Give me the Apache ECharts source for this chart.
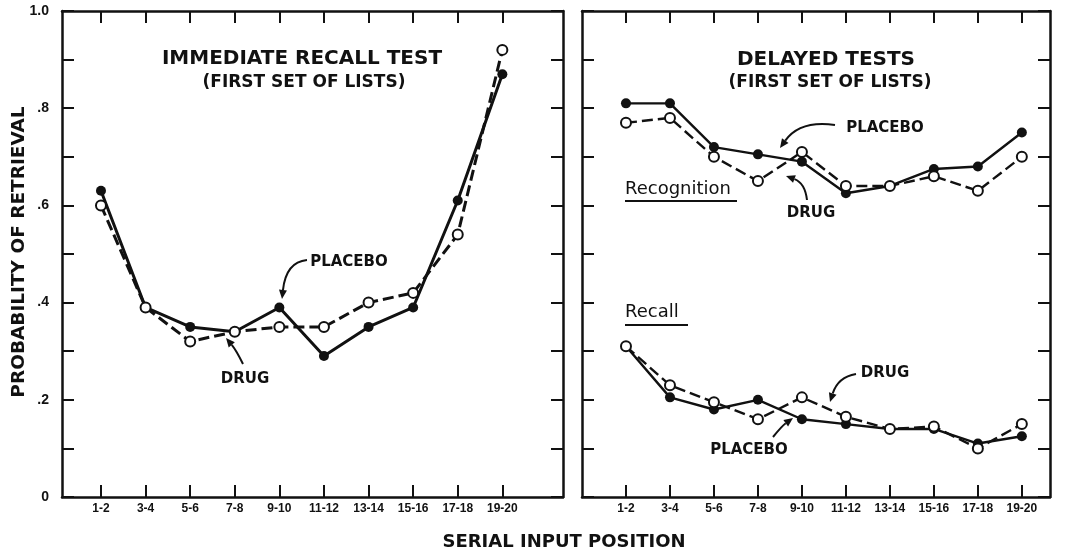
<!DOCTYPE html>
<html>
<head>
<meta charset="utf-8">
<script src="https://cdn.jsdelivr.net/npm/echarts@6/dist/echarts.min.js"></script>
<style>
  html, body { margin: 0; padding: 0; background: #fff; }
  #chart { width: 1083px; height: 554px; }
</style>
</head>
<body>
<div id="chart"></div>
<script>
// serial positions (pairs of list items)
var categories = ['1-2', '3-4', '5-6', '7-8', '9-10', '11-12', '13-14', '15-16', '17-18', '19-20'];
var yTickLabels = ['0', '.2', '.4', '.6', '.8', '1.0'];

// immediate recall test
var immPlacebo = [0.63, 0.39, 0.35, 0.34, 0.39, 0.29, 0.35, 0.39, 0.61, 0.87];
var immDrug    = [0.60, 0.39, 0.32, 0.34, 0.35, 0.35, 0.40, 0.42, 0.54, 0.92];

// delayed tests - recognition
var recogPlacebo = [0.81, 0.81, 0.72, 0.705, 0.69, 0.625, 0.64, 0.675, 0.68, 0.75];
var recogDrug    = [0.77, 0.78, 0.70, 0.65, 0.71, 0.64, 0.64, 0.66, 0.63, 0.70];

// delayed tests - recall
var recallPlacebo = [0.31, 0.205, 0.18, 0.20, 0.16, 0.15, 0.14, 0.14, 0.11, 0.125];
var recallDrug    = [0.31, 0.23, 0.195, 0.16, 0.205, 0.165, 0.14, 0.145, 0.10, 0.15];

var ink = '#111';
var positions = categories.map(function (c, i) { return i + 1; });

var chart = echarts.init(document.getElementById('chart'));

function xAx(grid, min, max, pos) {
  return {
    type: 'value', gridIndex: grid, position: pos, min: min, max: max,
    axisLine: { show: true, onZero: false, lineStyle: { color: ink, width: 2.5 } },
    axisTick: { show: true, inside: true, length: 12, lineStyle: { color: ink, width: 2 }, customValues: positions },
    axisLabel: {
      show: pos === 'bottom', customValues: positions, margin: 6,
      color: ink, fontFamily: 'Liberation Sans', fontWeight: 'bold', fontSize: 12,
      formatter: function (v) { return categories[Math.round(v) - 1]; }
    },
    splitLine: { show: false }
  };
}

function yAx(grid, pos, labels) {
  return {
    type: 'value', gridIndex: grid, position: pos, min: 0, max: 1, interval: 0.1,
    axisLine: { show: true, onZero: false, lineStyle: { color: ink, width: 2.5 } },
    axisTick: { show: true, inside: true, length: 12, lineStyle: { color: ink, width: 2 } },
    axisLabel: {
      show: labels, customValues: [0, 0.2, 0.4, 0.6, 0.8, 1], margin: 13,
      color: ink, fontFamily: 'Liberation Sans', fontWeight: 'bold', fontSize: 14,
      formatter: function (v) { return yTickLabels[Math.round(v * 5)]; }
    },
    splitLine: { show: false }
  };
}

function line(data, axis, dashed, w) {
  return {
    type: 'line', xAxisIndex: axis, yAxisIndex: axis,
    data: data.map(function (v, i) { return [positions[i], v]; }),
    symbol: 'circle', symbolSize: 10, z: dashed ? 3 : 2,
    lineStyle: { color: ink, width: w, type: dashed ? [11, 5] : 'solid' },
    itemStyle: { color: dashed ? '#fff' : ink, borderColor: ink, borderWidth: dashed ? 2 : 0 },
    silent: true
  };
}

function label(text, x, y, size, font, weight) {
  return {
    type: 'text', x: x, y: y, silent: true,
    style: {
      text: text, align: 'center', verticalAlign: 'middle', fill: ink,
      font: (weight || 'bold') + ' ' + size + 'px "' + (font || 'DejaVu Sans') + '"'
    }
  };
}

// curved pointer with a filled head at (x2, y2)
function arrow(x1, y1, cx, cy, x2, y2) {
  var dx = x2 - cx, dy = y2 - cy, d = Math.sqrt(dx * dx + dy * dy);
  var ux = dx / d, uy = dy / d, L = 9, W = 4;
  var bx = x2 - ux * L, by = y2 - uy * L;
  return [
    { type: 'bezierCurve', silent: true,
      shape: { x1: x1, y1: y1, cpx1: cx, cpy1: cy, x2: bx, y2: by },
      style: { stroke: ink, lineWidth: 2, fill: null } },
    { type: 'polygon', silent: true,
      shape: { points: [[x2, y2], [bx - uy * W, by + ux * W], [bx + uy * W, by - ux * W]] },
      style: { fill: ink } }
  ];
}

function underline(x1, x2, y) {
  return { type: 'line', silent: true, shape: { x1: x1, y1: y, x2: x2, y2: y }, style: { stroke: ink, lineWidth: 2 } };
}

var graphics = [
  label('IMMEDIATE RECALL TEST', 302, 59, 20),
  label('(FIRST SET OF LISTS)', 304, 83, 17),
  label('DELAYED TESTS', 826, 60, 20),
  label('(FIRST SET OF LISTS)', 830, 83, 17),
  { type: 'text', x: 625, y: 189, silent: true,
    style: { text: 'Recognition', verticalAlign: 'middle', fill: ink, font: '18px "DejaVu Sans"' } },
  underline(625, 737, 201),
  { type: 'text', x: 625, y: 312, silent: true,
    style: { text: 'Recall', verticalAlign: 'middle', fill: ink, font: '18px "DejaVu Sans"' } },
  underline(625, 688, 325),
  label('PLACEBO', 349, 262, 15),
  label('DRUG', 245, 379, 15),
  label('PLACEBO', 885, 128, 15),
  label('DRUG', 811, 213, 15),
  label('DRUG', 885, 373, 15),
  label('PLACEBO', 749, 450, 15),
  label('SERIAL INPUT POSITION', 564, 542, 18),
  { type: 'text', x: 19, y: 252, rotation: Math.PI / 2, silent: true,
    style: { text: 'PROBABILITY OF RETRIEVAL', align: 'center', verticalAlign: 'middle', fill: ink,
             font: 'bold 18.5px "DejaVu Sans"' } }
]
  .concat(arrow(307, 260, 286, 262, 282, 299))
  .concat(arrow(243, 364, 236, 350, 226, 338))
  .concat(arrow(835, 125, 800, 120, 780, 148))
  .concat(arrow(807, 200, 805, 183, 786, 176))
  .concat(arrow(856, 374, 838, 377, 830, 402))
  .concat(arrow(773, 437, 782, 426, 793, 418));

var option = {
  animation: false,
  backgroundColor: '#fff',
  grid: [
    { left: 62, top: 11, width: 501, height: 486 },
    { left: 582, top: 11, width: 468, height: 486 }
  ],
  xAxis: [
    xAx(0, 0.126, 11.36, 'bottom'),
    xAx(0, 0.126, 11.36, 'top'),
    xAx(1, 0, 10.64, 'bottom'),
    xAx(1, 0, 10.64, 'top')
  ],
  yAxis: [
    yAx(0, 'left', true),
    yAx(0, 'right', false),
    yAx(1, 'left', false),
    yAx(1, 'right', false)
  ],
  series: [
    line(immPlacebo, 0, false, 3),
    line(immDrug, 0, true, 3),
    line(recogPlacebo, 2, false, 2.4),
    line(recogDrug, 2, true, 2.4),
    line(recallPlacebo, 2, false, 2.4),
    line(recallDrug, 2, true, 2.4)
  ],
  graphic: graphics
};

chart.setOption(option);
</script>
</body>
</html>
